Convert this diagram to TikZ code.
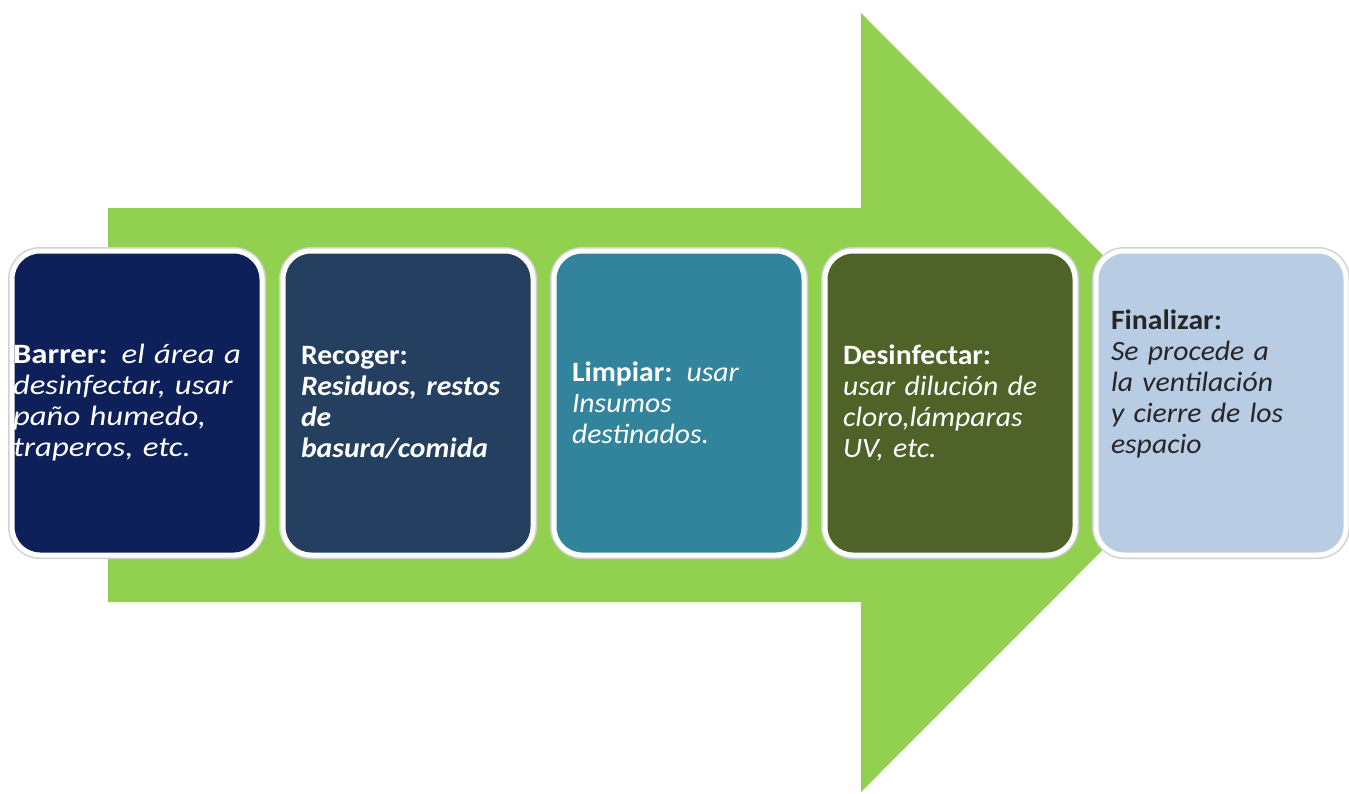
\documentclass[tikz,border=0pt]{standalone}
\usepackage{fontspec}
\setmainfont{Carlito}[FakeStretch=1.06]
\newfontfamily\widefont{Carlito}[FakeStretch=1.17]
\usepackage{xcolor}
\usepackage{tikz}
\usetikzlibrary{positioning, calc}

\definecolor{arrowgreen}{HTML}{92D050}
\definecolor{barrercol}{HTML}{0E2059}
\definecolor{recogercol}{HTML}{243F60}
\definecolor{limpiarcol}{HTML}{31849B}
\definecolor{desinfcol}{HTML}{4F6228}
\definecolor{finalcol}{HTML}{B8CCE4}
\definecolor{finaltext}{HTML}{262626}

\tikzset{
  stepbox/.style={rectangle, rounded corners=28pt, minimum width=250pt, minimum height=304pt,
    draw=white, line width=5pt, preaction={draw=black!18, line width=8pt}},
  steptext/.style={text=white, align=left, inner sep=0pt, text width=214pt,
    font=\fontsize{28}{31}\selectfont}
}

\begin{document}
\begin{tikzpicture}[x=1pt, y=-1pt]
  \useasboundingbox (0,0) rectangle (1349,793);

  % big arrow behind the steps
  \coordinate (S1) at (108,208);
  \coordinate (S2) at (861,208);
  \coordinate (H1) at (861,13);
  \coordinate (T) at (1250,402.5);
  \coordinate (H2) at (861,792);
  \coordinate (S3) at (861,602);
  \coordinate (S4) at (108,602);
  \fill[arrowgreen] (S1) -- (S2) -- (H1) -- (T) -- (H2) -- (S3) -- (S4) -- cycle;

  % steps
  \node[stepbox, fill=barrercol] (b1) at (137,403) {};
  \node[stepbox, fill=recogercol] (b2) at (408,403) {};
  \node[stepbox, fill=limpiarcol] (b3) at (679,403) {};
  \node[stepbox, fill=desinfcol] (b4) at (950,403) {};
  \node[stepbox, fill=finalcol] (b5) at (1221,403) {};

  \node[steptext, text width=248pt, font=\fontsize{28}{31}\widefont] (t1) at (b1) {\textbf{Barrer:} \textit{el área a\\ desinfectar, usar\\ paño humedo,\\ traperos, etc.}};
  \node[steptext] (t2) at (b2) {\textbf{Recoger:}\\ \textbf{\textit{Residuos, restos\\ de\\ basura/comida}}};
  \node[steptext] (t3) at (b3) {\textbf{Limpiar:} \textit{usar\\ Insumos\\ destinados.}};
  \node[steptext] (t4) at (b4) {\textbf{Desinfectar:}\\ \textit{usar dilución de\\ cloro,lámparas\\ UV, etc.}};
  \node[steptext, text=finaltext, text width=220pt] (t5) at ($(b5)+(0,-19)$) {\textbf{Finalizar:}\\ \textit{Se procede a\\ la ventilación\\ y cierre de los\\ espacio}};
\end{tikzpicture}
\end{document}
